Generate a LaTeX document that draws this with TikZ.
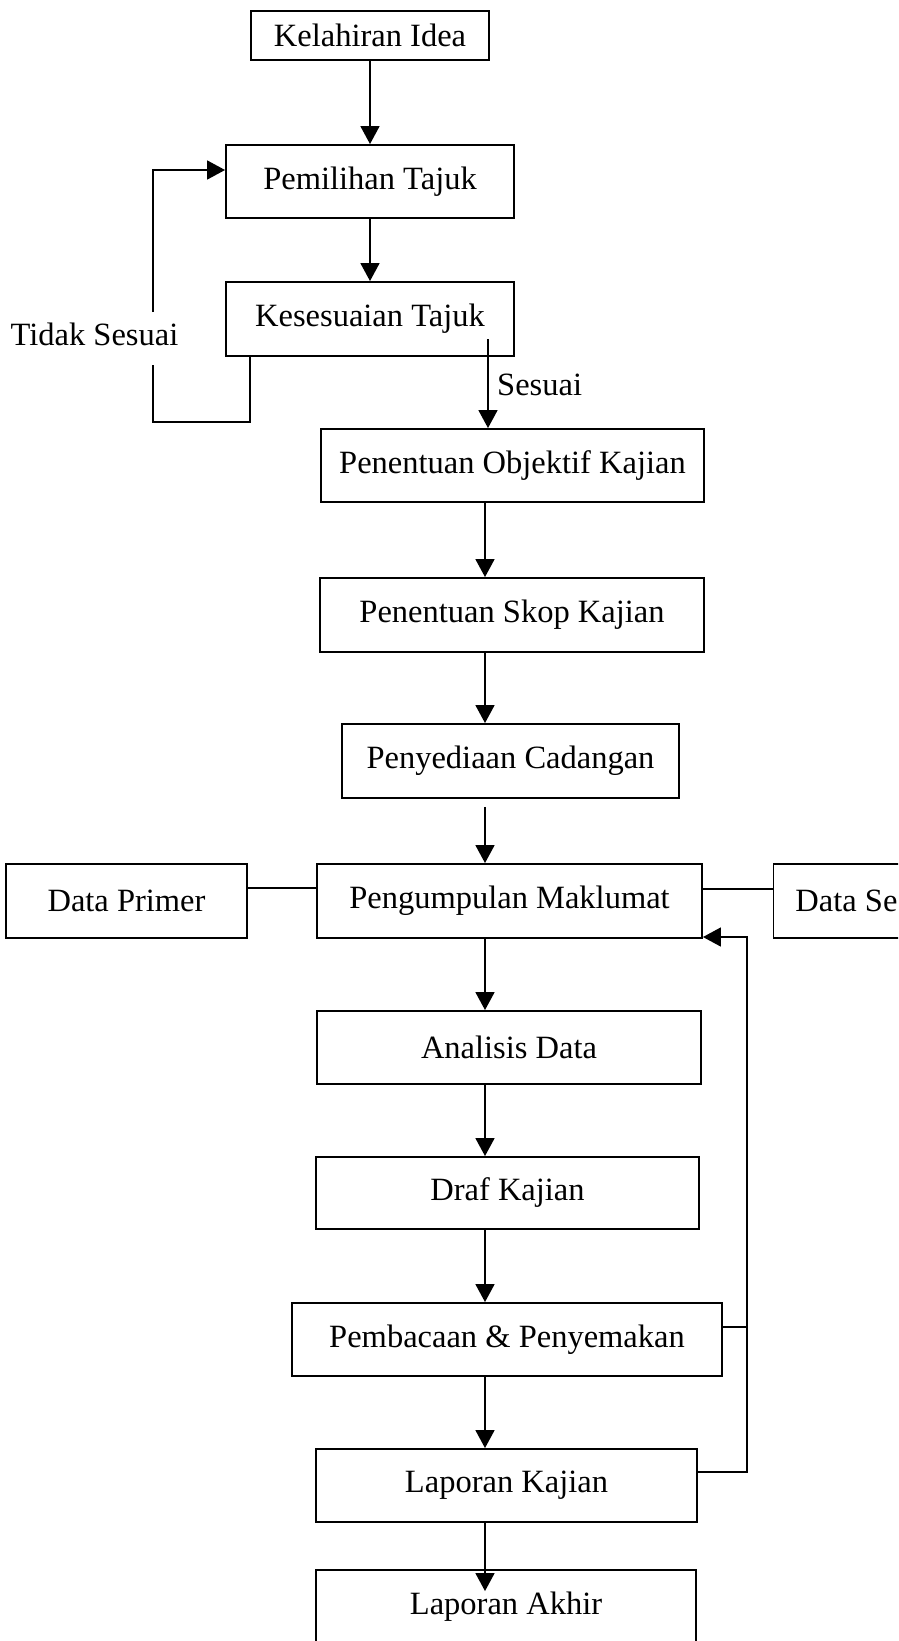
\documentclass[tikz,border=0pt]{standalone}
\usepackage{fontspec}
\setmainfont{Liberation Serif}
\usetikzlibrary{arrows.meta}
\begin{document}
\begin{tikzpicture}[x=1pt,y=-1pt,
  box/.style={draw, line width=1.9pt, rectangle, inner sep=0pt, font=\fontsize{32.5}{38}\selectfont},
  lbl/.style={inner sep=0pt, font=\fontsize{32.5}{38}\selectfont},
  arr/.style={line width=1.7pt, -{Triangle[length=18pt,width=19pt]}},
  ln/.style={line width=1.7pt}]
\useasboundingbox (0,0) rectangle (898,1641);
\clip (0,0) rectangle (898,1641);
% nodes
\node[box, minimum width=238pt, minimum height=49pt] (kel) at (370,35.5) {Kelahiran Idea};
\node[box, minimum width=288pt, minimum height=73pt] (pem) at (370,181.5) {Pemilihan Tajuk};
\node[box, minimum width=288pt, minimum height=74pt] (kes) at (370,319) {Kesesuaian Tajuk};
\node[box, minimum width=383pt, minimum height=73pt] (obj) at (512.5,465.5) {Penentuan Objektif Kajian};
\node[box, minimum width=384pt, minimum height=74pt] (skop) at (512,615) {Penentuan Skop Kajian};
\node[box, minimum width=337pt, minimum height=74pt] (cad) at (510.5,761) {Penyediaan Cadangan};
\node[box, minimum width=385pt, minimum height=74pt] (kum) at (509.5,901) {Pengumpulan Maklumat};
\node[box, minimum width=241pt, minimum height=74pt] (prim) at (126.5,901) {Data Primer};
\node[box, anchor=west, inner xsep=22pt, minimum height=74pt] (sek) at (772.5,901) {Data Se};
\node[box, minimum width=384pt, minimum height=73pt] (ana) at (509,1047.5) {Analisis Data};
\node[box, minimum width=383pt, minimum height=72pt] (draf) at (507.5,1193) {Draf Kajian};
\node[box, minimum width=430pt, minimum height=73pt] (baca) at (507,1339.5) {Pembacaan \& Penyemakan};
\node[box, minimum width=381pt, minimum height=73pt] (lap) at (506.5,1485.5) {Laporan Kajian};
\node[box, minimum width=380pt, minimum height=73pt] (akhir) at (506,1606.5) {Laporan Akhir};
% labels
\node[lbl, anchor=center] (tidak) at (94.5,334) {Tidak Sesuai};
\node[lbl, anchor=west] (sesuai) at (497,385) {Sesuai};
% helper coordinates
\coordinate (colx) at (485,0);
\coordinate (loopR) at (250,422);
\coordinate (loopL) at (153,170);
\coordinate (gapB) at (153,365);
\coordinate (gapT) at (153,312);
\coordinate (sesx) at (488,339);
\coordinate (fbx) at (747,0);
% top connectors
\draw[arr] (kel.south) -- (pem.north);
\draw[arr] (pem.south) -- (kes.north);
\draw[ln] (kes.south -| loopR) |- (loopL |- loopR) -- (gapB);
\draw[arr] (gapT) -- (loopL) -- (loopL -| pem.west);
\draw[arr] (sesx) -- (obj.north -| sesx);
% main column
\draw[arr] (obj.south -| colx) -- (skop.north -| colx);
\draw[arr] (skop.south -| colx) -- (cad.north -| colx);
\draw[arr] ([yshift=-8pt]cad.south -| colx) -- (kum.north -| colx);
\draw[arr] (kum.south -| colx) -- (ana.north -| colx);
\draw[arr] (ana.south -| colx) -- (draf.north -| colx);
\draw[arr] (draf.south -| colx) -- (baca.north -| colx);
\draw[arr] (baca.south -| colx) -- (lap.north -| colx);
\draw[arr] (lap.south -| colx) -- ([yshift=-22pt]akhir.north -| colx);
% side data
\draw[ln] (prim.east |- 0,888) -- (kum.west |- 0,888);
\draw[ln] (kum.east |- 0,889) -- (sek.west |- 0,889);
% feedback loop
\draw[arr] (lap.east |- 0,1472) -| (fbx |- 0,937) -- (kum.east |- 0,937);
\draw[ln] (baca.east |- 0,1327) -- (fbx |- 0,1327);
\end{tikzpicture}
\end{document}
